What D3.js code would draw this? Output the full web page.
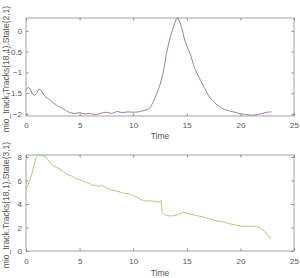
<!DOCTYPE html>
<html>
<head>
<meta charset="utf-8">
<script src="https://cdn.jsdelivr.net/npm/d3@7"></script>
<style>
  body { margin: 0; background: #fff; }
  svg { display: block; font-family: "Liberation Sans", Arial, sans-serif; }
</style>
</head>
<body>
<svg class="svg"></svg>
<script>
// time values and states
const timeA = [0, 0.2, 0.4, 0.6, 0.8, 1.0, 1.2, 1.4, 1.6, 1.8, 2.0, 2.3, 2.6, 2.9, 3.2, 3.5, 3.8, 4.1, 4.5, 5, 5.5, 6, 6.5, 7, 7.5, 8, 8.5, 9, 9.5, 10, 10.5, 11, 11.3, 11.6, 11.9, 12.2, 12.5, 12.8, 13.1, 13.4, 13.7, 14.0, 14.2, 14.5, 14.8, 15.1, 15.4, 15.7, 16.0, 16.3, 16.6, 17.0, 17.4, 17.8, 18.2, 18.6, 19.0, 19.5, 20, 20.5, 21, 21.5, 22, 22.5, 22.9];
const stateA = [-1.42, -1.36, -1.4, -1.52, -1.55, -1.5, -1.4, -1.43, -1.52, -1.58, -1.62, -1.68, -1.74, -1.8, -1.84, -1.88, -1.93, -1.97, -1.99, -1.97, -2.0, -1.99, -2.02, -1.98, -1.96, -1.99, -1.94, -1.97, -1.95, -1.96, -1.95, -1.92, -1.9, -1.84, -1.7, -1.5, -1.3, -1.0, -0.55, -0.2, 0.05, 0.28, 0.31, 0.1, -0.22, -0.42, -0.62, -0.88, -1.05, -1.2, -1.35, -1.55, -1.68, -1.78, -1.85, -1.9, -1.93, -1.96, -2.0, -2.01, -2.03, -2.02, -1.99, -1.96, -1.95];

const timeB = [0, 0.15, 0.35, 0.55, 0.75, 0.95, 1.2, 1.5, 1.8, 2.0, 2.3, 2.6, 2.9, 3.2, 3.5, 3.8, 4.1, 4.4, 4.7, 5.0, 5.3, 5.6, 5.9, 6.2, 6.5, 6.8, 7.1, 7.4, 7.7, 8.0, 8.4, 8.8, 9.2, 9.6, 10.0, 10.4, 10.8, 11.2, 11.6, 12.0, 12.4, 12.6, 12.7, 12.9, 13.2, 13.6, 14.0, 14.4, 14.7, 15.0, 15.4, 15.8, 16.2, 16.6, 17.0, 17.5, 18.0, 18.5, 19.0, 19.5, 20.0, 20.5, 21.0, 21.5, 21.9, 22.2, 22.5, 22.8];
const stateB = [5.2, 5.5, 6.0, 6.6, 7.3, 8.0, 8.15, 8.1, 8.05, 7.8, 7.45, 7.2, 7.1, 6.95, 6.75, 6.55, 6.45, 6.3, 6.15, 6.05, 5.95, 5.85, 5.75, 5.6, 5.55, 5.5, 5.6, 5.4, 5.3, 5.2, 5.1, 5.0, 4.9, 4.85, 4.7, 4.55, 4.35, 4.25, 4.28, 4.2, 4.15, 4.3, 3.3, 3.1, 3.0, 2.98, 3.05, 3.2, 3.3, 3.22, 3.12, 3.05, 2.95, 2.88, 2.75, 2.62, 2.55, 2.45, 2.32, 2.22, 2.12, 2.1, 2.12, 2.08, 1.95, 1.7, 1.4, 1.05];

const xTicks = [0, 5, 10, 15, 20, 25];
const yTicksA = [0, -0.5, -1, -1.5, -2];
const yTicksB = [0, 2, 4, 6, 8];

const width = 300, height = 278;
const svg = d3.select(".svg").attr("width", width).attr("height", height);

// one panel = box + ticks + line
function panel(p) {
  const x = d3.scaleLinear().domain([0, 25]).range([26, 294]);
  const y = d3.scaleLinear().domain(p.yDomain).range([p.bottom, p.top]);
  const g = svg.append("g");

  const axisStyle = (sel) => {
    sel.select(".domain").remove();
    sel.selectAll("line").attr("stroke", "#8a8a8a");
    sel.selectAll("text").attr("fill", "#555").style("font-size", "8px");
  };

  g.append("g").attr("transform", `translate(0,${p.bottom})`)
    .call(d3.axisBottom(x).tickValues(xTicks).tickSizeInner(-2.5).tickSizeOuter(0).tickPadding(p.xPad))
    .call(axisStyle);
  g.append("g").attr("transform", `translate(0,${p.top})`)
    .call(d3.axisTop(x).tickValues(xTicks).tickSizeInner(-2.5).tickSizeOuter(0).tickFormat(""))
    .call(axisStyle);
  g.append("g").attr("transform", `translate(26,0)`)
    .call(d3.axisLeft(y).tickValues(p.yTicks).tickSizeInner(-2.5).tickSizeOuter(0).tickPadding(4).tickFormat(d3.format("")))
    .call(axisStyle);
  g.append("g").attr("transform", `translate(294,0)`)
    .call(d3.axisRight(y).tickValues(p.yTicks).tickSizeInner(-2.5).tickSizeOuter(0).tickFormat(""))
    .call(axisStyle);

  g.append("rect")
    .attr("x", 26).attr("y", p.top)
    .attr("width", 268).attr("height", p.bottom - p.top)
    .attr("fill", "none").attr("stroke", "#8a8a8a").attr("stroke-width", 0.8);

  const pts = p.t.map((t, i) => [t, p.v[i]]);
  g.append("path")
    .datum(pts)
    .attr("fill", "none")
    .attr("stroke", p.color)
    .attr("stroke-width", 0.9)
    .attr("d", d3.line().x(d => x(d[0])).y(d => y(d[1])));

  g.append("text")
    .attr("x", 160).attr("y", p.bottom + p.timeOff)
    .attr("text-anchor", "middle")
    .attr("fill", "#555").style("font-size", "8.5px")
    .text("Time");

  g.append("text")
    .attr("transform", `translate(9,${(p.top + p.bottom) / 2 + 2}) rotate(-90)`)
    .attr("text-anchor", "middle")
    .attr("fill", "#555").style("font-size", "8.5px")
    .text(p.label);
}

panel({ t: timeA, v: stateA, yDomain: [-2.05, 0.31], yTicks: yTicksA, top: 18, bottom: 116,
  xPad: 6, timeOff: 23, color: "#9072a3", label: "mio_track.Tracks(18,1).State(2,1)" });
panel({ t: timeB, v: stateB, yDomain: [0, 8.17], yTicks: yTicksB, top: 155, bottom: 251,
  xPad: 7, timeOff: 25, color: "#a6c472", label: "mio_track.Tracks(18,1).State(3,1)" });
</script>
</body>
</html>
